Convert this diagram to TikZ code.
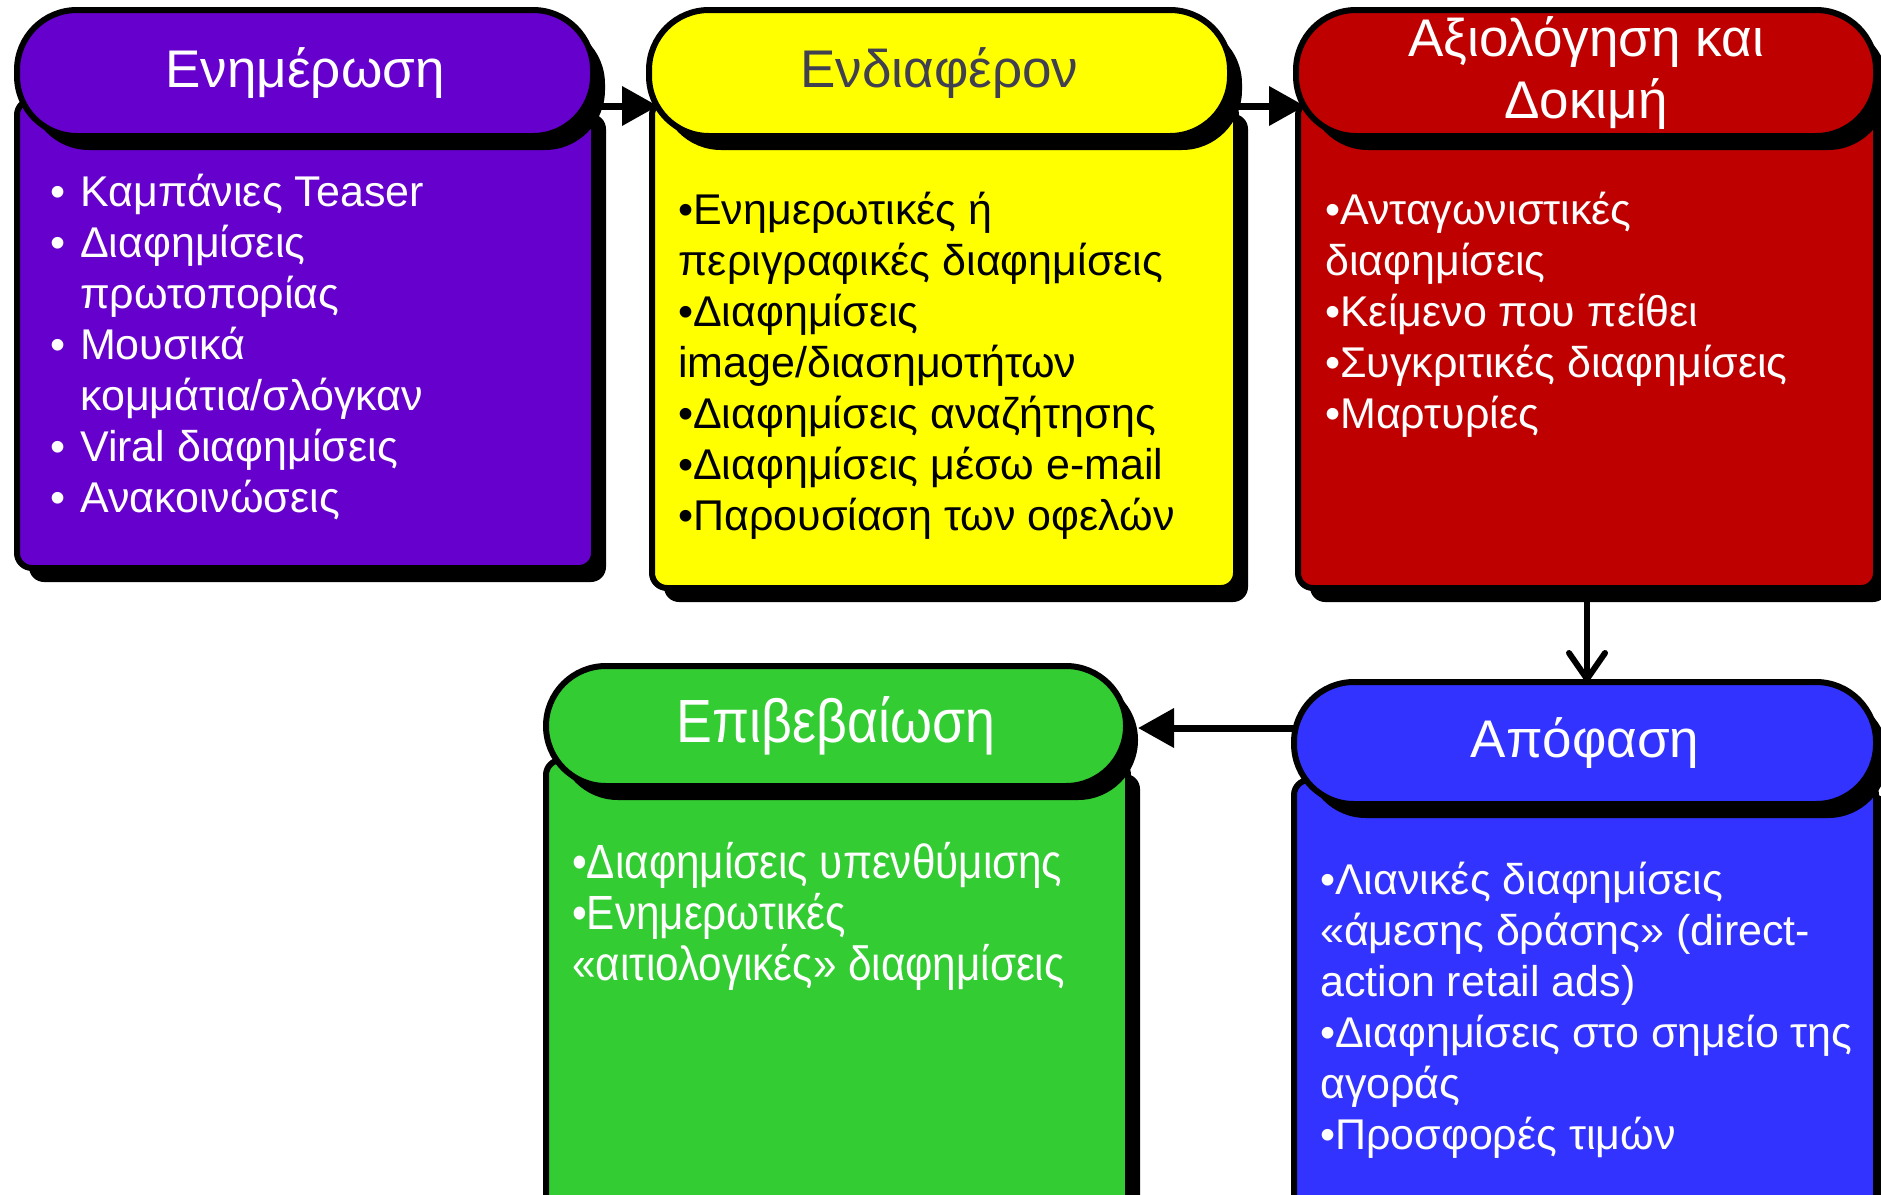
\documentclass[tikz,border=0pt]{standalone}
\usepackage{fontspec}
\setmainfont{Liberation Sans}
\newfontfamily\narrowfont[FakeStretch=0.88]{Liberation Sans}
\usetikzlibrary{shadows,arrows.meta,calc}
\definecolor{cPurple}{HTML}{6600CC}
\definecolor{cYellow}{HTML}{FFFF00}
\definecolor{cRed}{HTML}{BF0000}
\definecolor{cGreen}{HTML}{33CC33}
\definecolor{cBlue}{HTML}{3333FF}
\definecolor{cSlate}{HTML}{404050}
\newcommand{\bul}{\makebox[30pt][l]{•}}
\newcommand{\ind}{\hspace*{30pt}}
\newcommand{\fl}{\rule{0pt}{38pt}}
\tikzset{
  boxshadow/.style={drop shadow={shadow xshift=12pt, shadow yshift=-14pt, fill=black, opacity=1}},
  bodybox/.style={draw=black, line width=6pt, rounded corners=15pt, anchor=north west,
    inner sep=0pt, outer sep=0pt, boxshadow},
  headbox/.style={draw=black, line width=6pt, rounded corners=60pt, anchor=north west,
    inner sep=0pt, outer sep=0pt, align=center, boxshadow,
    font=\fontsize{53}{62}\selectfont},
  bodytext/.style={anchor=north west, inner sep=0pt, align=left,
    font=\fontsize{43}{51}\selectfont},
  flow/.style={line width=7pt, -{Triangle[length=36pt,width=38pt]}},
  drop/.style={line width=6pt, -{Straight Barb[length=26pt,width=36pt,line cap=round,line join=round]}},
}
\begin{document}
\begin{tikzpicture}[x=1pt,y=-1pt]
\useasboundingbox (0,0) rectangle (1881,1194);
\clip (0,0) rectangle (1881,1194);

% Stage 1: awareness
\node[bodybox, fill=cPurple, minimum width=577pt, minimum height=468pt] (b1) at (17,100) {};
\node[headbox, fill=cPurple, text=white, minimum width=576pt, minimum height=126pt] (h1) at (17,10) {Ενημέρωση};
\node[bodytext, text=white] (t1) at (b1.north west) [xshift=33pt, yshift=-68pt] {%
\fl\bul Καμπάνιες Teaser\\
\bul Διαφημίσεις\\
\ind πρωτοπορίας\\
\bul Μουσικά\\
\ind κομμάτια/σλόγκαν\\
\bul Viral διαφημίσεις\\
\bul Ανακοινώσεις};

% Stage 2: interest
\node[bodybox, fill=cYellow, minimum width=584pt, minimum height=488pt] (b2) at (652,100) {};
\node[headbox, fill=cYellow, text=cSlate, minimum width=581pt, minimum height=126pt] (h2) at (649,10) {Ενδιαφέρον};
\node[bodytext, text=black] (t2) at (b2.north west) [xshift=26pt, yshift=-86pt] {%
\fl•Ενημερωτικές ή\\
περιγραφικές διαφημίσεις\\
•Διαφημίσεις\\
image/διασημοτήτων\\
•Διαφημίσεις αναζήτησης\\
•Διαφημίσεις μέσω e-mail\\
•Παρουσίαση των οφελών};

% Stage 3: evaluation and trial
\node[bodybox, fill=cRed, minimum width=578pt, minimum height=488pt] (b3) at (1298,100) {};
\node[headbox, fill=cRed, text=white, minimum width=580pt, minimum height=126pt] (h3) at (1296,10) {Αξιολόγηση και\\Δοκιμή};
\node[bodytext, text=white] (t3) at (b3.north west) [xshift=27pt, yshift=-86pt] {%
\fl•Ανταγωνιστικές\\
διαφημίσεις\\
•Κείμενο που πείθει\\
•Συγκριτικές διαφημίσεις\\
•Μαρτυρίες};

% Stage 5: confirmation
\node[bodybox, fill=cGreen, minimum width=582pt, minimum height=500pt] (b4) at (546,760) {};
\node[headbox, fill=cGreen, text=white, minimum width=580pt, minimum height=120pt,
  font=\narrowfont\fontsize{61}{62}\selectfont] (h4) at (546,666) {Επιβεβαίωση};
\node[bodytext, text=white, font=\narrowfont\fontsize{48}{51}\selectfont] (t4) at (b4.north west) [xshift=26pt, yshift=-80pt] {%
\fl•Διαφημίσεις υπενθύμισης\\
•Ενημερωτικές\\
«αιτιολογικές» διαφημίσεις};

% Stage 4: decision
\node[bodybox, fill=cBlue, minimum width=582pt, minimum height=500pt] (b5) at (1294,780) {};
\node[headbox, fill=cBlue, text=white, minimum width=582pt, minimum height=122pt] (h5) at (1294,682) {Απόφαση};
\node[bodytext, text=white] (t5) at (b5.north west) [xshift=26pt, yshift=-76pt] {%
\fl•Λιανικές διαφημίσεις\\
«άμεσης δράσης» (direct-\\
action retail ads)\\
•Διαφημίσεις στο σημείο της\\
αγοράς\\
•Προσφορές τιμών};

% Connectors
\draw[flow] ($(h1.east)+(0,33)$) -- ($(h2.west)+(9,33)$);
\draw[flow] ($(h2.east)+(0,33)$) -- ($(h3.west)+(9,33)$);
\draw[drop] (b3.south) -- (b3.south |- h5.north);
\draw[flow] ($(h5.west)+(0,-15)$) -- ($(h4.east)+(12,2)$);
\end{tikzpicture}
\end{document}
